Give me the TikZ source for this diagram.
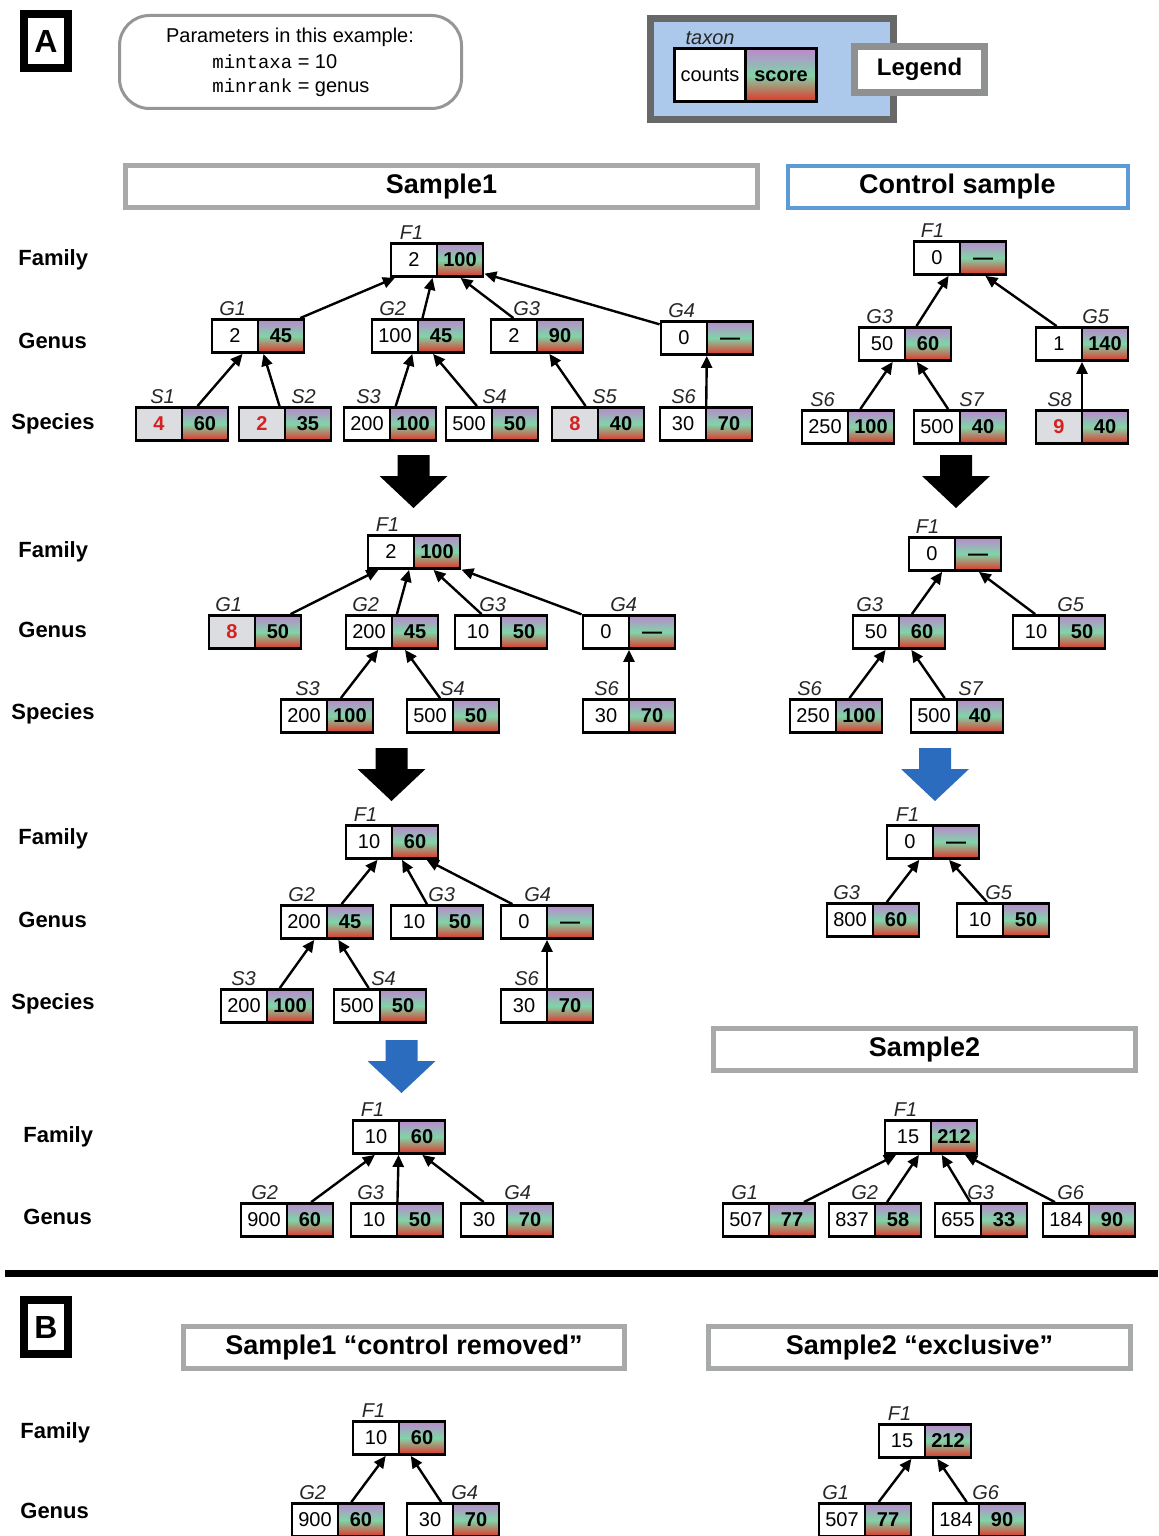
\documentclass[tikz,border=0pt]{standalone}
\usepackage{fontspec}
\setmainfont{Liberation Sans}
\setmonofont[Scale=0.95]{Liberation Mono}
\usepackage{xcolor}
\usepackage{tikz}
\usetikzlibrary{arrows.meta,positioning,shadings}

\definecolor{sctop}{RGB}{188,136,206}
\definecolor{scmid}{RGB}{128,212,168}
\definecolor{scbot}{RGB}{226,52,40}
\definecolor{cellgray}{RGB}{220,221,225}
\definecolor{cutred}{RGB}{212,34,34}
\definecolor{hdrgray}{RGB}{168,170,170}
\definecolor{ctrlblue}{RGB}{92,155,213}
\definecolor{arrblue}{RGB}{43,108,190}
\definecolor{legblue}{RGB}{172,201,235}
\definecolor{legframe}{RGB}{104,104,104}
\definecolor{boxgray}{RGB}{150,150,150}

\tikzset{
  taxon/.style={draw, line width=1.4pt, fill=white, minimum width=46pt, minimum height=16.5pt,
    inner sep=0pt, font=\fontsize{10}{12}\selectfont,
    path picture={
      \shade[top color=sctop, bottom color=scbot, middle color=scmid]
        (path picture bounding box.north) rectangle (path picture bounding box.south east);
      \draw[line width=1.4pt] (path picture bounding box.north) -- (path picture bounding box.south);
    }},
  dropped/.style={fill=cellgray},
  lbl/.style={font=\fontsize{10}{12}\selectfont\itshape, text=black!85, inner sep=1pt},
  tlabel/.style 2 args={label={[lbl, anchor=south, xshift=#2*0.5pt]north west:#1}},
  arr/.style={line width=1.2pt, -{Triangle[length=6pt, width=5.5pt]}},
  hdr/.style={draw=hdrgray, line width=2.5pt, fill=white, minimum height=21pt, inner sep=0pt,
    font=\fontsize{13.5}{16}\selectfont\bfseries},
  ranklbl/.style={anchor=west, inner sep=0pt, font=\fontsize{11}{13}\selectfont\bfseries},
  letterbox/.style={draw, line width=4pt, minimum width=22pt, minimum height=27pt, inner sep=0pt,
    font=\fontsize{16}{18}\selectfont\bfseries}
}

\newcommand{\cs}[2]{\makebox[23pt]{#1}\makebox[23pt]{\bfseries #2}}
\newcommand{\rd}[1]{\textcolor{cutred}{\bfseries #1}}
\newcommand{\bigdown}[3]{\fill[#3, shift={(#1,#2)}] (-16,0) -- (16,0) -- (16,21) -- (34,21) -- (0,53) -- (-34,21) -- (-16,21) -- cycle;}

\begin{document}
\begin{tikzpicture}[x=0.5pt, y=-0.5pt]
\useasboundingbox (0,0) rectangle (1158,1536);

% header: panel letter, parameters, legend
\node[letterbox] (letA) at (46,41) {A};
\node[draw=boxgray, line width=1.5pt, rounded corners=15pt, minimum width=171pt, minimum height=46.5pt] (params) at (290.5,62) {};
\node[font=\fontsize{10}{12}\selectfont] (ptitle) at (290,37) {Parameters in this example:};
\node[anchor=west, inner sep=0pt, font=\fontsize{10}{12}\selectfont] (pmin) at (212,62) {\texttt{mintaxa} = 10};
\node[anchor=west, inner sep=0pt, font=\fontsize{10}{12}\selectfont] (prank) at (212,88) {\texttt{minrank} = genus};

\node[draw=legframe, line width=3.5pt, fill=legblue, minimum width=121.5pt, minimum height=50.5pt] (legbox) at (772,69) {};
\node[taxon, minimum width=71pt, minimum height=26.5pt, tlabel={taxon}{37}] (legtx) at (745.5,75)
  {\makebox[35.5pt]{counts}\makebox[35.5pt]{\bfseries score}};
\node[draw=hdrgray!85!black, line width=3.5pt, fill=white, minimum width=65pt, minimum height=23pt,
  font=\fontsize{12}{14}\selectfont\bfseries] (legname) at (919.5,69.5) {Legend};

% column headers
\node[hdr, minimum width=316pt] (hS1) at (441.5,186.5) {Sample1};
\node[hdr, draw=ctrlblue, line width=2pt, minimum width=170pt] (hCtrl) at (957.5,186.5) {Control sample};
\node[hdr, minimum width=211pt] (hS2) at (924.5,1049.5) {Sample2};

% rank labels
\node[ranklbl] (r1f) at (18,260) {Family};
\node[ranklbl] (r1g) at (18,341) {Genus};
\node[ranklbl] (r1s) at (11,424) {Species};
\node[ranklbl] (r2f) at (18,552) {Family};
\node[ranklbl] (r2g) at (18,630) {Genus};
\node[ranklbl] (r2s) at (11,714) {Species};
\node[ranklbl] (r3f) at (18,839) {Family};
\node[ranklbl] (r3g) at (18,920) {Genus};
\node[ranklbl] (r3s) at (11,1004) {Species};
\node[ranklbl] (r4f) at (23,1137) {Family};
\node[ranklbl] (r4g) at (23,1217) {Genus};

% Sample1, full tree
\node[taxon, tlabel={F1}{22}] (aF1) at (437,260) {\cs{2}{100}};
\node[taxon, tlabel={G1}{22}] (aG1) at (258,336) {\cs{2}{45}};
\node[taxon, tlabel={G2}{22}] (aG2) at (418,336) {\cs{100}{45}};
\node[taxon, tlabel={G3}{37}] (aG3) at (537,336) {\cs{2}{90}};
\node[taxon, tlabel={G4}{22}] (aG4) at (707,338) {\cs{0}{---}};
\node[taxon, dropped, tlabel={S1}{28}] (aS1) at (182,424) {\cs{\rd{4}}{60}};
\node[taxon, dropped, tlabel={S2}{66}] (aS2) at (285,424) {\cs{\rd{2}}{35}};
\node[taxon, tlabel={S3}{26}] (aS3) at (390,424) {\cs{200}{100}};
\node[taxon, tlabel={S4}{50}] (aS4) at (492,424) {\cs{500}{50}};
\node[taxon, dropped, tlabel={S5}{54}] (aS5) at (598,424) {\cs{\rd{8}}{40}};
\node[taxon, tlabel={S6}{25}] (aS6) at (706,424) {\cs{30}{70}};
\draw[arr] (aS1) -- (aG1);
\draw[arr] (aS2) -- (aG1);
\draw[arr] (aS3) -- (aG2);
\draw[arr] (aS4) -- (aG2);
\draw[arr] (aS5) -- (aG3);
\draw[arr] (aS6) -- (aG4);
\draw[arr] (aG1) -- (aF1);
\draw[arr] (aG2) -- (aF1);
\draw[arr] (aG3) -- (aF1);
\draw[arr] (aG4) -- (aF1);

% Control sample, full tree
\node[taxon, tlabel={F1}{20}] (bF1) at (960,258) {\cs{0}{---}};
\node[taxon, tlabel={G3}{22}] (bG3) at (905,344) {\cs{50}{60}};
\node[taxon, tlabel={G5}{61}] (bG5) at (1082,344) {\cs{1}{140}};
\node[taxon, tlabel={S6}{22}] (bS6) at (848,427) {\cs{250}{100}};
\node[taxon, tlabel={S7}{59}] (bS7) at (960,427) {\cs{500}{40}};
\node[taxon, dropped, tlabel={S8}{25}] (bS8) at (1082,427) {\cs{\rd{9}}{40}};
\draw[arr] (bS6) -- (bG3);
\draw[arr] (bS7) -- (bG3);
\draw[arr] (bS8) -- (bG5);
\draw[arr] (bG3) -- (bF1);
\draw[arr] (bG5) -- (bF1);

\bigdown{413.5}{455}{black}
\bigdown{956}{455}{black}

% Sample1, species under mintaxa pushed up
\node[taxon, tlabel={F1}{21}] (cF1) at (414,552) {\cs{2}{100}};
\node[taxon, dropped, tlabel={G1}{21}] (cG1) at (255,632) {\cs{\rd{8}}{50}};
\node[taxon, tlabel={G2}{21}] (cG2) at (392,632) {\cs{200}{45}};
\node[taxon, tlabel={G3}{39}] (cG3) at (501,632) {\cs{10}{50}};
\node[taxon, tlabel={G4}{42}] (cG4) at (629,632) {\cs{0}{---}};
\node[taxon, tlabel={S3}{28}] (cS3) at (327,716) {\cs{200}{100}};
\node[taxon, tlabel={S4}{47}] (cS4) at (453,716) {\cs{500}{50}};
\node[taxon, tlabel={S6}{25}] (cS6) at (629,716) {\cs{30}{70}};
\draw[arr] (cS3) -- (cG2);
\draw[arr] (cS4) -- (cG2);
\draw[arr] (cS6) -- (cG4);
\draw[arr] (cG1) -- (cF1);
\draw[arr] (cG2) -- (cF1);
\draw[arr] (cG3) -- (cF1);
\draw[arr] (cG4) -- (cF1);

% Control sample
\node[taxon, tlabel={F1}{20}] (dF1) at (955,554) {\cs{0}{---}};
\node[taxon, tlabel={G3}{18}] (dG3) at (899,632) {\cs{50}{60}};
\node[taxon, tlabel={G5}{59}] (dG5) at (1059,632) {\cs{10}{50}};
\node[taxon, tlabel={S6}{21}] (dS6) at (836,716) {\cs{250}{100}};
\node[taxon, tlabel={S7}{61}] (dS7) at (957,716) {\cs{500}{40}};
\draw[arr] (dS6) -- (dG3);
\draw[arr] (dS7) -- (dG3);
\draw[arr] (dG3) -- (dF1);
\draw[arr] (dG5) -- (dF1);

\bigdown{391.5}{748}{black}
\bigdown{935}{748}{arrblue}

% Sample1, genus under mintaxa pushed up
\node[taxon, tlabel={F1}{21}] (eF1) at (392,842) {\cs{10}{60}};
\node[taxon, tlabel={G2}{22}] (eG2) at (327,922) {\cs{200}{45}};
\node[taxon, tlabel={G3}{52}] (eG3) at (437,922) {\cs{10}{50}};
\node[taxon, tlabel={G4}{38}] (eG4) at (547,922) {\cs{0}{---}};
\node[taxon, tlabel={S3}{24}] (eS3) at (267,1006) {\cs{200}{100}};
\node[taxon, tlabel={S4}{51}] (eS4) at (380,1006) {\cs{500}{50}};
\node[taxon, tlabel={S6}{27}] (eS6) at (547,1006) {\cs{30}{70}};
\draw[arr] (eS3) -- (eG2);
\draw[arr] (eS4) -- (eG2);
\draw[arr] (eS6) -- (eG4);
\draw[arr] (eG2) -- (eF1);
\draw[arr] (eG3) -- (eF1);
\draw[arr] (eG4) -- (eF1);

% Control sample, cut at minrank
\node[taxon, tlabel={F1}{22}] (fF1) at (933,842) {\cs{0}{---}};
\node[taxon, tlabel={G3}{21}] (fG3) at (873,920) {\cs{800}{60}};
\node[taxon, tlabel={G5}{43}] (fG5) at (1003,920) {\cs{10}{50}};
\draw[arr] (fG3) -- (fF1);
\draw[arr] (fG5) -- (fF1);

\bigdown{401.5}{1040}{arrblue}

% Sample1, cut at minrank
\node[taxon, tlabel={F1}{21}] (gF1) at (399,1137) {\cs{10}{60}};
\node[taxon, tlabel={G2}{25}] (gG2) at (287,1220) {\cs{900}{60}};
\node[taxon, tlabel={G3}{21}] (gG3) at (397,1220) {\cs{10}{50}};
\node[taxon, tlabel={G4}{58}] (gG4) at (507,1220) {\cs{30}{70}};
\draw[arr] (gG2) -- (gF1);
\draw[arr] (gG3) -- (gF1);
\draw[arr] (gG4) -- (gF1);

% Sample2
\node[taxon, tlabel={F1}{22}] (hF1) at (931,1137) {\cs{15}{212}};
\node[taxon, tlabel={G1}{23}] (hG1) at (769,1220) {\cs{507}{77}};
\node[taxon, tlabel={G2}{37}] (hG2) at (875,1220) {\cs{837}{58}};
\node[taxon, tlabel={G3}{47}] (hG3) at (981,1220) {\cs{655}{33}};
\node[taxon, tlabel={G6}{29}] (hG6) at (1089,1220) {\cs{184}{90}};
\draw[arr] (hG1) -- (hF1);
\draw[arr] (hG2) -- (hF1);
\draw[arr] (hG3) -- (hF1);
\draw[arr] (hG6) -- (hF1);

\draw[line width=3.5pt] (5,1273) -- (1158,1273);

% panel B
\node[letterbox] (letB) at (46,1327) {B};
\node[hdr, minimum width=220.5pt] (hS1cr) at (404,1347.5) {Sample1 “control removed”};
\node[hdr, minimum width=211pt] (hS2ex) at (919.5,1347.5) {Sample2 “exclusive”};
\node[ranklbl] (r5f) at (20,1433) {Family};
\node[ranklbl] (r5g) at (20,1511) {Genus};

\node[taxon, tlabel={F1}{22}] (iF1) at (399,1438) {\cs{10}{60}};
\node[taxon, tlabel={G2}{22}] (iG2) at (338,1520) {\cs{900}{60}};
\node[taxon, tlabel={G4}{59}] (iG4) at (453,1520) {\cs{30}{70}};
\draw[arr] (iG2) -- (iF1);
\draw[arr] (iG4) -- (iF1);

\node[taxon, tlabel={F1}{22}] (jF1) at (925,1441) {\cs{15}{212}};
\node[taxon, tlabel={G1}{18}] (jG1) at (865,1520) {\cs{507}{77}};
\node[taxon, tlabel={G6}{54}] (jG6) at (979,1520) {\cs{184}{90}};
\draw[arr] (jG1) -- (jF1);
\draw[arr] (jG6) -- (jF1);
\end{tikzpicture}
\end{document}
